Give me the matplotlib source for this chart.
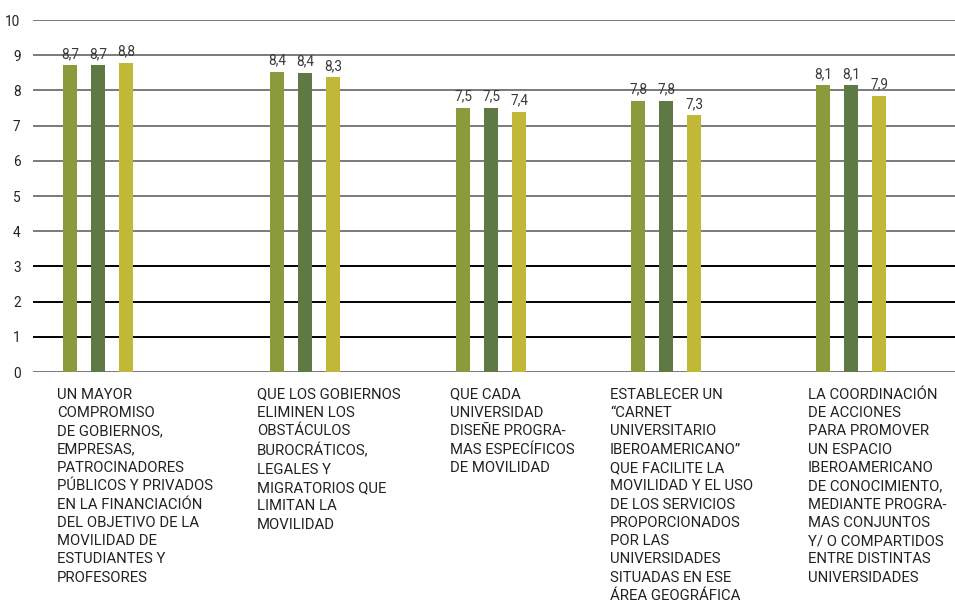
import numpy as np
import matplotlib.pyplot as plt
from matplotlib.transforms import blended_transform_factory

# Data
categories = [
    "UN MAYOR\nCOMPROMISO\nDE GOBIERNOS,\nEMPRESAS,\nPATROCINADORES\nPÚBLICOS Y PRIVADOS\nEN LA FINANCIACIÓN\nDEL OBJETIVO DE LA\nMOVILIDAD DE\nESTUDIANTES Y\nPROFESORES",
    "QUE LOS GOBIERNOS\nELIMINEN LOS\nOBSTÁCULOS\nBUROCRÁTICOS,\nLEGALES Y\nMIGRATORIOS QUE\nLIMITAN LA\nMOVILIDAD",
    "QUE CADA\nUNIVERSIDAD\nDISEÑE PROGRA-\nMAS ESPECÍFICOS\nDE MOVILIDAD",
    "ESTABLECER UN\n“CARNET\nUNIVERSITARIO\nIBEROAMERICANO”\nQUE FACILITE LA\nMOVILIDAD Y EL USO\nDE LOS SERVICIOS\nPROPORCIONADOS\nPOR LAS\nUNIVERSIDADES\nSITUADAS EN ESE\nÁREA GEOGRÁFICA",
    "LA COORDINACIÓN\nDE ACCIONES\nPARA PROMOVER\nUN ESPACIO\nIBEROAMERICANO\nDE CONOCIMIENTO,\nMEDIANTE PROGRA-\nMAS CONJUNTOS\nY/ O COMPARTIDOS\nENTRE DISTINTAS\nUNIVERSIDADES",
]
series_a = [8.72, 8.53, 7.50, 7.70, 8.15]
series_b = [8.72, 8.50, 7.50, 7.70, 8.15]
series_c = [8.79, 8.38, 7.39, 7.30, 7.85]
labels_a = ["8,7", "8,4", "7,5", "7,8", "8,1"]
labels_b = ["8,7", "8,4", "7,5", "7,8", "8,1"]
labels_c = ["8,8", "8,3", "7,4", "7,3", "7,9"]

# Layout (x in pixel-like units)
group_centers = [98, 305, 491, 666, 851]
text_offsets = [-41, -48, -41, -56, -43]
colors = ["#8b9a3b", "#5f7944", "#c0b836"]
bar_w = 14
step = 28

plt.rcParams["font.family"] = ["Roboto", "DejaVu Sans"]

fig = plt.figure(figsize=(9.55, 6.05), dpi=100)
ax = fig.add_axes([33 / 955, (605 - 372) / 605, 1 - 33 / 955, 352 / 605])

# gridlines
for v in range(0, 11):
    c = "#000000" if v in (1, 2, 3) else "#7a7a7a"
    ax.axhline(v, color=c, lw=1.4, zorder=1)

x = np.array(group_centers, dtype=float)
for i, (vals, labs) in enumerate([(series_a, labels_a), (series_b, labels_b), (series_c, labels_c)]):
    xs = x + (i - 1) * step
    ax.bar(xs, vals, width=bar_w, color=colors[i], zorder=2)
    for xi, v, t in zip(xs, vals, labs):
        ax.text(xi, v + 0.12, t, ha="center", va="bottom", fontsize=9.8, color="#3a3a3a")

ax.set_xlim(33, 955)
ax.set_ylim(0, 10)
ax.set_yticks(range(0, 11))
ax.set_xticks([])
ax.tick_params(axis="y", length=0, pad=9, labelsize=9.8, labelcolor="#222222")
for s in ax.spines.values():
    s.set_visible(False)

trans = blended_transform_factory(ax.transData, ax.transAxes)
for c, off, txt in zip(group_centers, text_offsets, categories):
    ax.text(c + off, -0.045, txt, transform=trans, ha="left", va="top",
            fontsize=10.7, color="#222222", linespacing=1.39)

fig.savefig("out.png", dpi=100)
